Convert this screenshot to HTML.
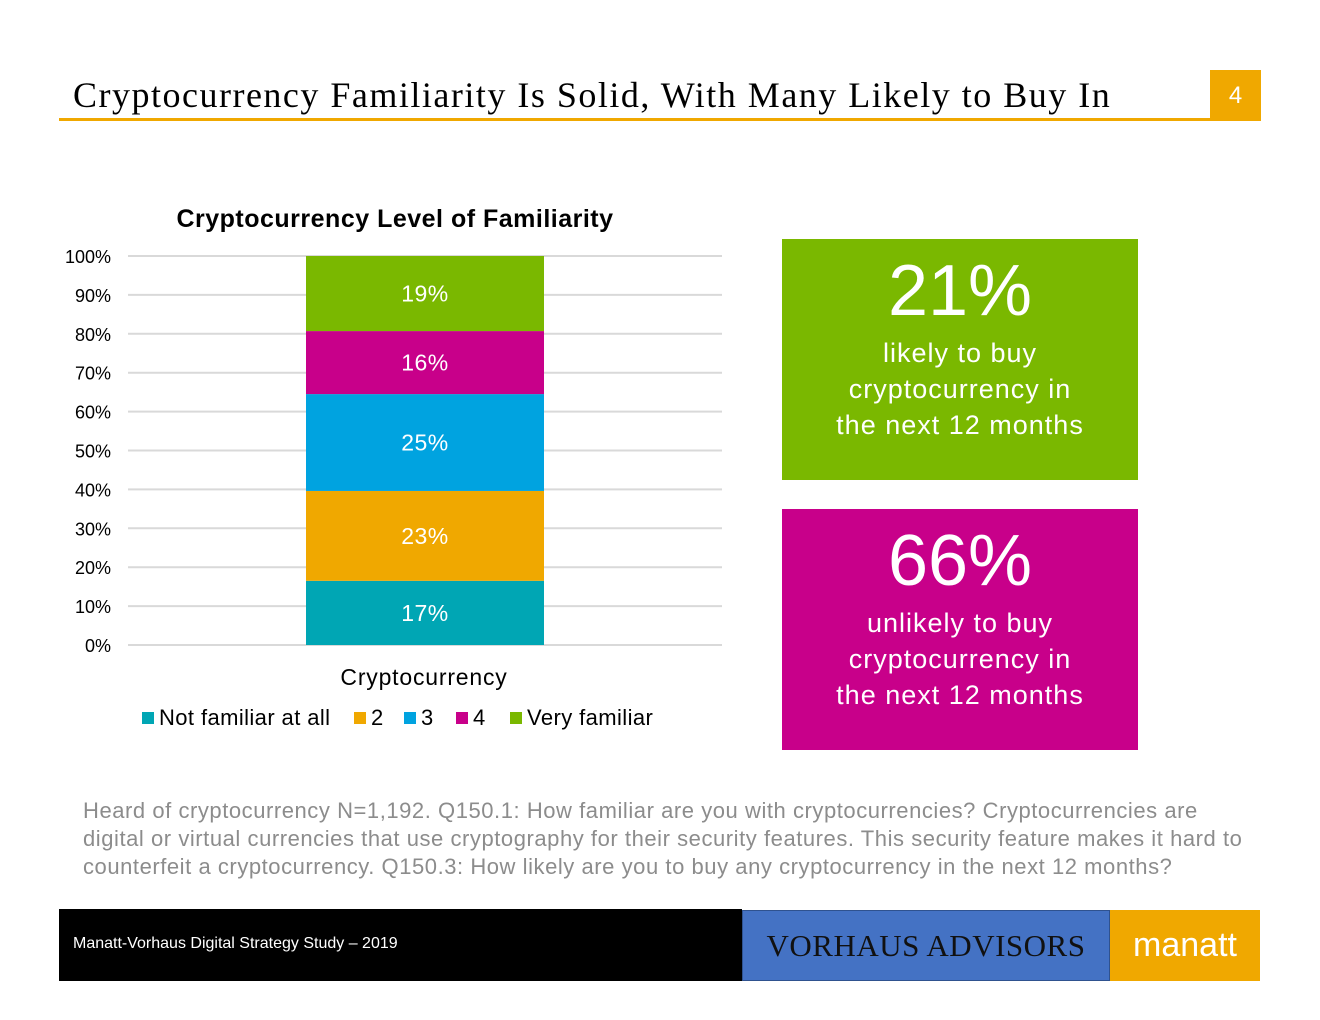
<!DOCTYPE html>
<html><head><meta charset="utf-8"><style>
body{margin:0;width:1320px;height:1020px;background:#fff;position:relative;font-family:"Liberation Sans",sans-serif;overflow:hidden}
.abs{position:absolute}
</style></head><body>
<div class="abs" style="left:73px;top:74px;font-family:'Liberation Serif',serif;font-size:36px;letter-spacing:1.5px;color:#000;white-space:nowrap">Cryptocurrency Familiarity Is Solid, With Many Likely to Buy In</div>
<div class="abs" style="left:59px;top:118px;width:1152px;height:3px;background:#f0a800"></div>
<div class="abs" style="left:1210px;top:70px;width:51px;height:51px;background:#f0a800;color:#fff;font-size:24px;text-align:center;line-height:51px">4</div>

<svg class="abs" style="left:0;top:0" width="1320" height="1020">
<text x="395" y="227" text-anchor="middle" font-size="25" font-weight="bold" letter-spacing="0.5" font-family="Liberation Sans">Cryptocurrency Level of Familiarity</text>
<g id="grid"></g><g id="bars"></g>
<text x="424" y="685" text-anchor="middle" font-size="23" letter-spacing="0.8" font-family="Liberation Sans">Cryptocurrency</text>
<g id="legend"></g>
</svg>

<div class="abs" style="left:782px;top:239px;width:356px;height:241px;background:#7ab800;color:#fff;text-align:center">
<div style="font-size:72px;margin-top:12px;line-height:80px">21%</div>
<div style="font-size:27px;line-height:36px;margin-top:4px;letter-spacing:1px">likely to buy<br>cryptocurrency in<br>the next 12 months</div></div>
<div class="abs" style="left:782px;top:509px;width:356px;height:241px;background:#c8008a;color:#fff;text-align:center">
<div style="font-size:72px;margin-top:12px;line-height:80px">66%</div>
<div style="font-size:27px;line-height:36px;margin-top:4px;letter-spacing:1px">unlikely to buy<br>cryptocurrency in<br>the next 12 months</div></div>

<div class="abs" style="left:83px;top:797px;white-space:nowrap;font-size:22px;letter-spacing:0.55px;line-height:28px;color:#8c8c8c">Heard of cryptocurrency N=1,192. Q150.1: How familiar are you with cryptocurrencies? Cryptocurrencies are<br>digital or virtual currencies that use cryptography for their security features. This security feature makes it hard to<br>counterfeit a cryptocurrency. Q150.3: How likely are you to buy any cryptocurrency in the next 12 months?</div>

<div class="abs" style="left:59px;top:909px;width:683px;height:72px;background:#000"></div>
<div class="abs" style="left:73px;top:935px;color:#fff;font-size:16px">Manatt-Vorhaus Digital Strategy Study – 2019</div>
<div class="abs" style="left:742px;top:910px;width:366px;height:69px;background:#4472c4;border:1px solid #2f528f;font-family:'Liberation Serif',serif;font-size:31px;letter-spacing:0.5px;text-align:center;line-height:69px;color:#111">VORHAUS ADVISORS</div>
<div class="abs" style="left:1110px;top:910px;width:150px;height:71px;background:#f0a800;color:#fff;font-size:34px;text-align:center;line-height:70px">manatt</div>

<script>
const ticks=["0%","10%","20%","30%","40%","50%","60%","70%","80%","90%","100%"];
const series=["Not familiar at all","2","3","4","Very familiar"];
const values=[16.5,23.1,24.9,16.2,19.3];
const colors=["#00a6b4","#f0a800","#00a3e0","#c8008a","#7ab800"];
const NS="http://www.w3.org/2000/svg";
const y=v=>645-v*3.89;
function mk(t,a,p){const e=document.createElementNS(NS,t);for(const k in a)e.setAttribute(k,a[k]);p.appendChild(e);return e;}
const g=document.getElementById('grid');
ticks.forEach((t,i)=>{
  const l=mk('line',{x1:128,x2:722,y1:y(i*10),y2:y(i*10),stroke:'#d9d9d9','stroke-width':2},g);
  
  
  const tx=mk('text',{x:111,y:y(i*10)+7,'text-anchor':'end','font-size':18,'font-family':'Liberation Sans'},g);
  tx.textContent=t;
  
  
});
const b=document.getElementById('bars');let cum=0;
values.forEach((v,i)=>{
  const r=mk('rect',{x:306,width:238,y:y(cum+v),height:v*3.89,fill:colors[i]},b);
  
  
  const t=mk('text',{x:425,y:y(cum+v/2)+8,'text-anchor':'middle','font-size':23,'letter-spacing':0.5,fill:'#fff','font-family':'Liberation Sans'},b);
  t.textContent=Math.round(v)+'%';
  
  
  cum+=v;
});
const lg=document.getElementById('legend');
const lx=[142,354,404,456,510];
series.forEach((s,i)=>{
  const r=mk('rect',{x:lx[i],y:712,width:12,height:12,fill:colors[i]},lg);
  
  
  const t=mk('text',{x:lx[i]+17,y:725,'font-size':22,'letter-spacing':0.4,'font-family':'Liberation Sans'},lg);
  t.textContent=s;
  
  
});
</script>
</body></html>
